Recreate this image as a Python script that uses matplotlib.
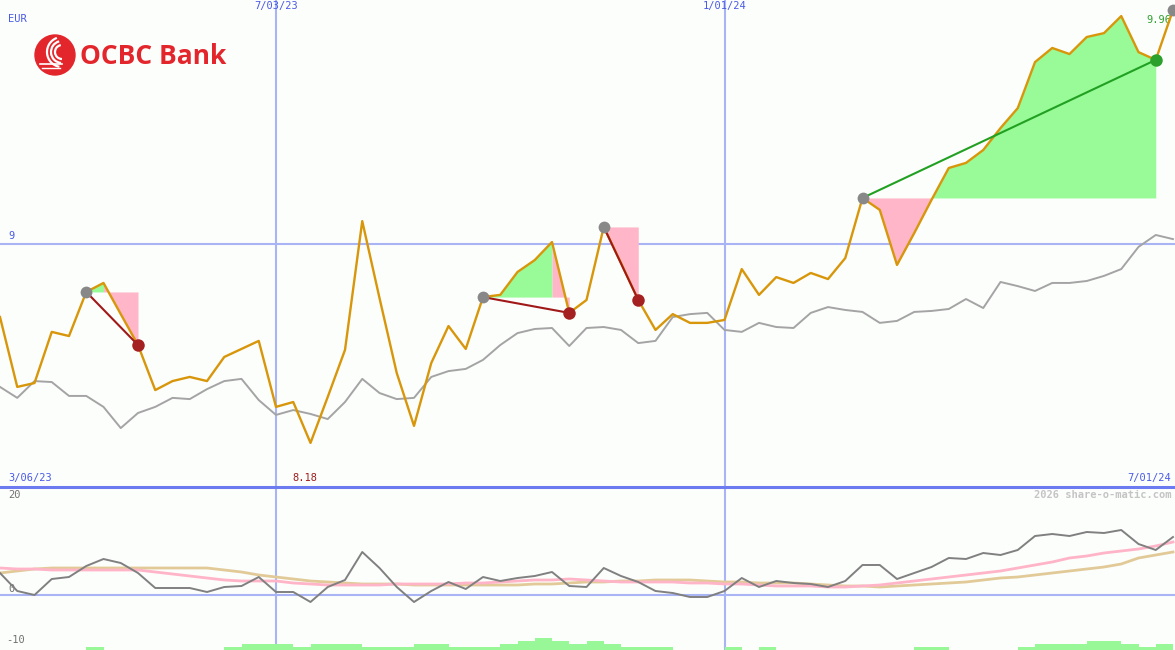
import numpy as np
import matplotlib.pyplot as plt
from matplotlib.patches import Circle, Arc
import matplotlib.transforms as mtransforms

# weekly closes (EUR) and benchmark line
price = [8.698, 8.411, 8.427, 8.637, 8.620, 8.801, 8.838, 8.710, 8.583, 8.398,
         8.435, 8.452, 8.435, 8.534, 8.567, 8.600, 8.329, 8.349, 8.181, 8.370,
         8.563, 9.092, 8.776, 8.468, 8.251, 8.509, 8.661, 8.567, 8.780, 8.789,
         8.883, 8.932, 9.006, 8.715, 8.768, 9.068, 8.920, 8.768, 8.645, 8.710,
         8.674, 8.674, 8.686, 8.895, 8.789, 8.862, 8.838, 8.879, 8.854, 8.940,
         9.187, 9.138, 8.912, 9.043, 9.179, 9.310, 9.331, 9.384, 9.474, 9.556,
         9.745, 9.803, 9.778, 9.848, 9.864, 9.934, 9.786, 9.754, 9.959]
bench = [8.411, 8.366, 8.435, 8.431, 8.374, 8.374, 8.329, 8.242, 8.304, 8.329,
         8.366, 8.361, 8.402, 8.435, 8.444, 8.357, 8.296, 8.316, 8.300, 8.279,
         8.349, 8.444, 8.386, 8.361, 8.366, 8.452, 8.476, 8.485, 8.522, 8.583,
         8.632, 8.649, 8.653, 8.579, 8.653, 8.657, 8.645, 8.591, 8.600, 8.698,
         8.710, 8.715, 8.645, 8.637, 8.674, 8.657, 8.653, 8.715, 8.739, 8.727,
         8.719, 8.674, 8.682, 8.719, 8.723, 8.731, 8.772, 8.735, 8.842, 8.825,
         8.805, 8.838, 8.838, 8.846, 8.867, 8.895, 8.986, 9.035, 9.018]

# lower panel: oscillator and its two averages
osc = [4.4, 0.8, 0.0, 3.2, 3.6, 5.8, 7.2, 6.4, 4.4, 1.4,
       1.4, 1.4, 0.6, 1.6, 1.8, 3.6, 0.6, 0.6, -1.4, 1.6,
       3.0, 8.6, 5.4, 1.6, -1.4, 0.8, 2.6, 1.2, 3.6, 2.8,
       3.4, 3.8, 4.6, 1.8, 1.6, 5.4, 3.8, 2.6, 0.8, 0.4,
       -0.4, -0.4, 0.8, 3.4, 1.6, 2.8, 2.4, 2.2, 1.6, 2.8,
       6.0, 6.0, 3.2, 4.4, 5.6, 7.4, 7.2, 8.4, 8.0, 9.0,
       11.8, 12.2, 11.8, 12.6, 12.4, 13.0, 10.2, 9.0, 11.6]
osc_fast = [5.4, 5.2, 5.2, 5.0, 5.0, 5.0, 5.0, 5.0, 5.0, 4.6,
            4.2, 3.8, 3.4, 3.0, 2.8, 2.8, 2.8, 2.4, 2.2, 2.0,
            2.0, 2.0, 2.0, 2.2, 2.2, 2.2, 2.2, 2.4, 2.4, 2.6,
            2.8, 3.0, 3.0, 3.2, 3.0, 2.8, 2.6, 2.6, 2.6, 2.6,
            2.4, 2.4, 2.2, 2.2, 2.0, 1.8, 1.8, 1.8, 1.6, 1.6,
            1.8, 2.0, 2.4, 2.8, 3.2, 3.6, 4.0, 4.4, 4.8, 5.4,
            6.0, 6.6, 7.4, 7.8, 8.4, 8.8, 9.2, 9.8, 10.6]
osc_slow = [4.4, 4.8, 5.2, 5.4, 5.4, 5.4, 5.4, 5.4, 5.4, 5.4,
            5.4, 5.4, 5.4, 5.0, 4.6, 4.0, 3.6, 3.2, 2.8, 2.6,
            2.4, 2.2, 2.2, 2.2, 2.0, 2.0, 2.0, 2.0, 2.0, 2.0,
            2.0, 2.2, 2.2, 2.4, 2.6, 2.6, 2.8, 2.8, 3.0, 3.0,
            3.0, 2.8, 2.6, 2.6, 2.4, 2.4, 2.4, 2.2, 2.0, 1.8,
            1.8, 1.6, 1.8, 2.0, 2.2, 2.4, 2.6, 3.0, 3.4, 3.6,
            4.0, 4.4, 4.8, 5.2, 5.6, 6.2, 7.4, 8.0, 8.6]

vol_week = [5, 13, 14, 15, 16, 17, 18, 19, 20, 21, 22, 23, 24, 25, 26, 27, 28,
            29, 30, 31, 32, 33, 34, 35, 36, 37, 38, 42, 44, 53, 54, 59, 60, 61,
            62, 63, 64, 65, 66, 67]
vol_level = [1, 1, 2, 2, 2, 1, 2, 2, 2, 1, 1, 1, 2, 2, 1, 1, 1,
             2, 3, 4, 3, 2, 3, 2, 1, 1, 1, 1, 1, 1, 1, 1, 2, 2,
             2, 3, 3, 2, 1, 2]

# signals: entry week, exit week
entries = [5, 28, 35, 50]
exits = [8, 33, 37, 67]
open_signal = 68

grid_weeks = [16, 42]
grid_labels = ['7/03/23', '1/01/24']
first_date, last_date = '3/06/23', '7/01/24'

W, H = 1175, 650
bg = '#fcfefc'
step = 17.25
xmax = W / step
mono = 'DejaVu Sans Mono'
blue_txt = '#4a5ae8'
grey_txt = '#707070'
grid_c = '#a8b4f4'
green_f = '#98fb98'
pink_f = '#ffb6c8'

fig = plt.figure(figsize=(W / 100, H / 100), dpi=100)
fig.patch.set_facecolor(bg)
ax = fig.add_axes([0, 163 / H, 1, 487 / H])
ax2 = fig.add_axes([0, 0, 1, 163 / H])
for a in (ax, ax2):
    a.set_facecolor(bg)
    a.set_xlim(0, xmax)
    a.set_xticks([])
    a.set_yticks([])
    for s in a.spines.values():
        s.set_visible(False)
ax.set_ylim(8.0, 10.0)
ax2.set_ylim(-11.0, 21.6)

x = np.arange(len(price))

# grid
ax.axhline(9, color=grid_c, lw=1.5, zorder=1)
ax2.axhline(0, color=grid_c, lw=1.5, zorder=1)
for g in grid_weeks:
    ax.axvline(g, color=grid_c, lw=1.5, zorder=1)
    ax2.axvline(g, color=grid_c, lw=1.5, zorder=1)

# trade fills: colour of a week follows where it closes vs the entry level
for e, q in zip(entries, exits):
    lvl = price[e]
    cols = [green_f if price[i + 1] >= lvl else pink_f for i in range(e, q)]
    start = e
    for k in range(1, len(cols) + 1):
        if k == len(cols) or cols[k] != cols[k - 1]:
            end = e + k
            xs = x[start:end + 1]
            ax.fill_between(xs, lvl, price[start:end + 1], color=cols[k - 1],
                            lw=0, zorder=2)
            start = end

ax.plot(x, bench, color='#a4a4a4', lw=1.4, zorder=3)
ax.plot(x, price, color='#d8960a', lw=1.7, zorder=4)

for e, q in zip(entries, exits):
    win = price[q] > price[e]
    lc = '#22a022' if win else '#a01818'
    ax.plot([e, q], [price[e], price[q]], color=lc, lw=1.5, zorder=5)
    ax.plot(e, price[e], 'o', ms=8.5, color='#888888', mec='none', zorder=6)
    ax.plot(q, price[q], 'o', ms=9, color='#2ca02c' if win else '#a52020',
            mec='none', zorder=6)
ax.plot(open_signal, price[open_signal], 'o', ms=8.5, color='#888888',
        mec='none', zorder=6)

# lower panel
ax2.bar(vol_week, [v * 0.6 for v in vol_level], width=1, align='edge',
        bottom=-11.0, color='#98f898', lw=0, zorder=2)
ax2.plot(x, osc_slow, color='#e2ca98', lw=2, zorder=3)
ax2.plot(x, osc_fast, color='#ffb4c8', lw=2, zorder=3)
ax2.plot(x, osc, color='#808080', lw=1.4, zorder=4)

# labels
tb = mtransforms.blended_transform_factory(ax.transData, ax.transAxes)
for g, lab in zip(grid_weeks, grid_labels):
    ax.text(g, 0.997, lab, transform=tb, ha='center', va='top',
            family=mono, fontsize=7.5, color=blue_txt)
ax.text(0.007, 0.962, 'EUR', transform=ax.transAxes, fontsize=7.5,
        family=mono, color=blue_txt, va='center')
ax.text(0.007, 9.012, '9', transform=ax.get_yaxis_transform(), fontsize=7.5,
        family=mono, color=blue_txt, va='bottom')
ax.text(0.007, 0.008, first_date, transform=ax.transAxes, fontsize=7.5,
        family=mono, color=blue_txt, va='bottom')
ax.text(0.997, 0.008, last_date, transform=ax.transAxes, fontsize=7.5,
        family=mono, color=blue_txt, va='bottom', ha='right')
imin = int(np.argmin(price))
ax.text(imin - 0.3, 0.008, f'{min(price):.2f}', transform=tb, fontsize=7.5,
        family=mono, color='#a01c1c', va='bottom', ha='center')
ax.text(0.997, price[-1] - 0.02, f'{price[-1]:.2f}',
        transform=ax.get_yaxis_transform(), fontsize=7.5, family=mono,
        color='#30a030', va='top', ha='right')

ty = ax2.get_yaxis_transform()
ax2.text(0.007, 20.9, '20', transform=ty, fontsize=7.5, family=mono,
         color=grey_txt, va='top')
ax2.text(0.007, 0.3, '0', transform=ty, fontsize=7.5, family=mono,
         color=grey_txt, va='bottom')
ax2.text(0.005, -9.0, '-10', transform=ty, fontsize=7.5, family=mono,
         color=grey_txt, va='center')
ax2.text(0.997, 20.9, '2026 share-o-matic.com', transform=ty, fontsize=7.5,
         family=mono, color='#c4c4c4', va='top', ha='right', weight='bold')

# overlay for separator and logo
ov = fig.add_axes([0, 0, 1, 1])
ov.set_xlim(0, W)
ov.set_ylim(H, 0)
ov.axis('off')
ov.patch.set_alpha(0)
ov.plot([0, W], [487, 487], color='#6c7cf0', lw=2.2)

red = '#e3262c'
ov.add_patch(Circle((55, 55), 20, color=red, zorder=5))
for r, t1, t2 in [(15, 100, 250), (11, 95, 255), (7, 90, 260)]:
    ov.add_patch(Arc((62, 52), 2 * r, 2 * r, theta1=t1, theta2=t2,
                     color='white', lw=1.6, zorder=6))
ov.plot([40, 62], [64, 64], color='white', lw=1.2, zorder=6)
ov.plot([42, 60], [68, 68], color='white', lw=1.0, zorder=6)
ov.text(80, 56, 'OCBC Bank', fontsize=19, family='Open Sans', weight='bold',
        color=red, va='center', ha='left', zorder=6)

fig.savefig('out.png', dpi=100, facecolor=bg)
